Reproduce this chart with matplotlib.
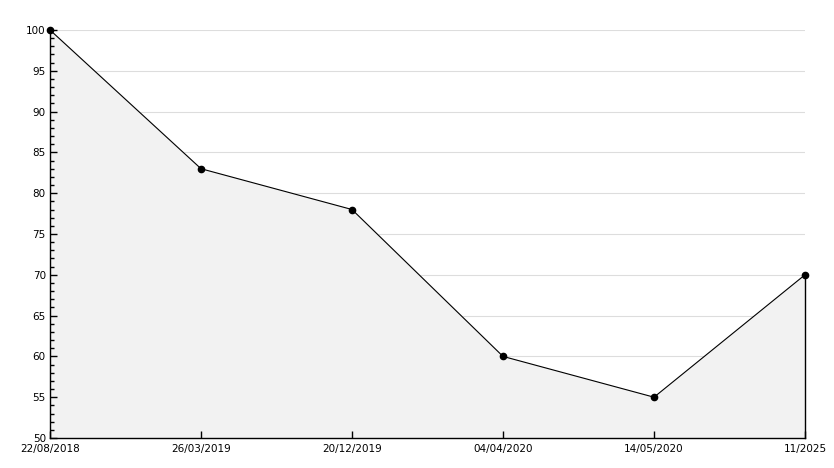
import numpy as np
import matplotlib.pyplot as plt
from matplotlib.ticker import MultipleLocator

# 数据
dates = ["22/08/2018", "26/03/2019", "20/12/2019", "04/04/2020", "14/05/2020", "11/2025"]
values = [100, 83, 78, 60, 55, 70]
y_min, y_max = 50, 100

x = np.arange(len(dates))

fig = plt.figure(figsize=(8.34, 4.68), dpi=100)
ax = fig.add_axes([50 / 834, 30 / 468, 755 / 834, 408 / 468])

ax.set_xlim(x[0], x[-1])
ax.set_ylim(y_min, y_max)
ax.set_xticks(x)
ax.set_xticklabels(dates)
ax.yaxis.set_major_locator(MultipleLocator(5))
ax.yaxis.set_minor_locator(MultipleLocator(1))

# 网格线放在填充区域下面
for yv in ax.get_yticks():
    if y_min < yv <= y_max:
        ax.axhline(yv, color="#dddddd", lw=0.8, zorder=0.1)

# 填充区域 + 右侧竖线
ax.fill_between(x, values, y_min, color="#f2f2f2", zorder=0.2)
ax.plot([x[-1], x[-1]], [y_min, values[-1]], color="black", lw=1, zorder=2, clip_on=False)
ax.plot(x, values, color="black", lw=0.8, marker="o", markersize=4.5, zorder=3, clip_on=False)

ax.set_axisbelow(True)
for s in ["top", "right"]:
    ax.spines[s].set_visible(False)
ax.spines["left"].set_linewidth(1)
ax.spines["bottom"].set_linewidth(1)

ax.tick_params(axis="both", direction="in", labelsize=7.5, length=5, width=1, pad=3)
ax.tick_params(axis="y", which="minor", direction="in", length=3, width=1)
ax.tick_params(axis="x", pad=4)

fig.savefig("out.png", dpi=100)
